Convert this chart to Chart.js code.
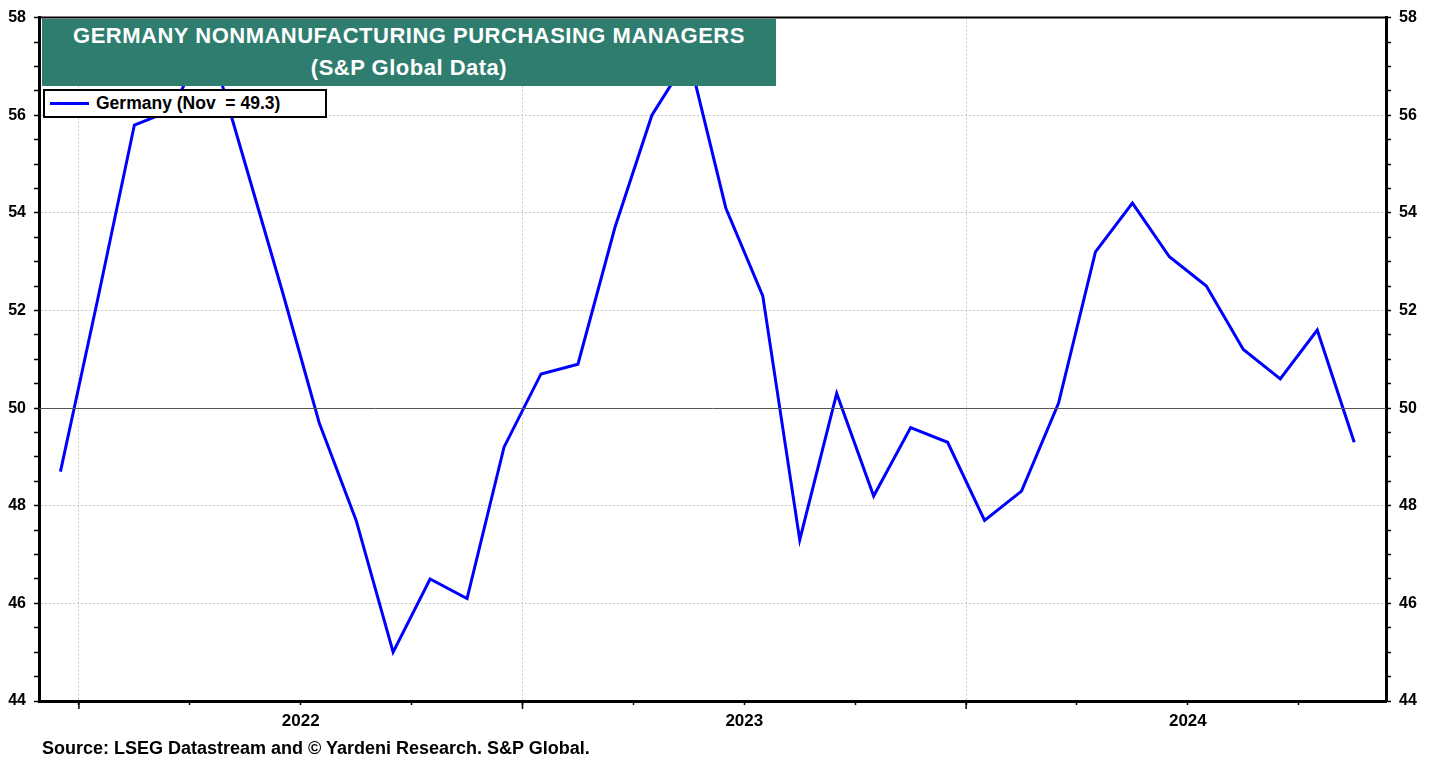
<!DOCTYPE html>
<html>
<head>
<meta charset="utf-8">
<script src="https://cdn.jsdelivr.net/npm/chart.js@4.4.0/dist/chart.umd.min.js"></script>
<style>
  body { margin: 0; background: #fff; }
  #wrap { position: relative; width: 1438px; height: 760px; font-family: "Liberation Sans", Arial, sans-serif; }
  #titleBox {
    position: absolute; left: 42px; top: 19px; width: 734px; height: 67px;
    background: rgb(46, 125, 111); color: #fff; font-weight: bold; font-size: 22px; letter-spacing: 0.5px;
    text-align: center; line-height: 32px; box-sizing: border-box; padding-top: 1px;
  }
  #legendBox {
    position: absolute; left: 43px; top: 89px; width: 284px; height: 29px;
    background: #fff; border: 2px solid #000; box-sizing: border-box;
    font-weight: bold; font-size: 17.5px; white-space: pre;
  }
  #legendBox .swatch { position: absolute; left: 5px; top: 11px; width: 39px; height: 3px; background: #0000ff; }
  #legendBox .lbl { position: absolute; left: 51px; top: 2px; }
  #source { position: absolute; left: 42px; top: 738px; font-weight: bold; font-size: 18px; color: #000; }
</style>
</head>
<body>
<div id="wrap">
  <canvas id="pmiChart" width="1438" height="760"></canvas>
  <div id="titleBox">GERMANY NONMANUFACTURING PURCHASING MANAGERS<br>(S&amp;P Global Data)</div>
  <div id="legendBox"><div class="swatch"></div><div class="lbl">Germany (Nov  = 49.3)</div></div>
  <div id="source">Source: LSEG Datastream and © Yardeni Research. S&amp;P Global.</div>
</div>
<script>
// meses (Dez 2021 a Nov 2024)
const months = [
  'Dec 2021',
  'Jan 2022', 'Feb 2022', 'Mar 2022', 'Apr 2022', 'May 2022', 'Jun 2022',
  'Jul 2022', 'Aug 2022', 'Sep 2022', 'Oct 2022', 'Nov 2022', 'Dec 2022',
  'Jan 2023', 'Feb 2023', 'Mar 2023', 'Apr 2023', 'May 2023', 'Jun 2023',
  'Jul 2023', 'Aug 2023', 'Sep 2023', 'Oct 2023', 'Nov 2023', 'Dec 2023',
  'Jan 2024', 'Feb 2024', 'Mar 2024', 'Apr 2024', 'May 2024', 'Jun 2024',
  'Jul 2024', 'Aug 2024', 'Sep 2024', 'Oct 2024', 'Nov 2024'
];
const germanyPmi = [
  48.7,
  52.2, 55.8, 56.1, 57.6, 55.0, 52.4,
  49.7, 47.7, 45.0, 46.5, 46.1, 49.2,
  50.7, 50.9, 53.7, 56.0, 57.2, 54.1,
  52.3, 47.3, 50.3, 48.2, 49.6, 49.3,
  47.7, 48.3, 50.1, 53.2, 54.2, 53.1,
  52.5, 51.2, 50.6, 51.6, 49.3
];
const yearLabels = ['2022', '2023', '2024'];
const yTickLabels = [44, 46, 48, 50, 52, 54, 56, 58];

// mes em indice a partir de jan/2022, ponto no meio do mes
function monthPos(label) {
  const [m, y] = label.split(' ');
  const mi = ['Jan','Feb','Mar','Apr','May','Jun','Jul','Aug','Sep','Oct','Nov','Dec'].indexOf(m);
  return (Number(y) - 2022) * 12 + mi + 0.5;
}
const points = months.map((m, i) => ({ x: monthPos(m), y: germanyPmi[i] }));

const yearStarts = yearLabels.map((y, i) => i * 12);
const yearMids = yearLabels.map((y, i) => i * 12 + 6);

const extras = {
  id: 'extras',
  afterDraw(chart) {
    const { ctx, chartArea: a, scales } = chart;
    ctx.save();
    // linha de 50
    const y50 = Math.round(scales.y.getPixelForValue(50)) + 0.5;
    ctx.strokeStyle = '#555';
    ctx.lineWidth = 1;
    ctx.beginPath(); ctx.moveTo(a.left, y50); ctx.lineTo(a.right, y50); ctx.stroke();
    // borda de cima
    ctx.strokeStyle = '#000';
    ctx.lineWidth = 2;
    ctx.beginPath(); ctx.moveTo(a.left - 1, a.top); ctx.lineTo(a.right + 1, a.top); ctx.stroke();
    // ticks maiores no inicio de cada ano
    ctx.lineWidth = 1.5;
    yearStarts.forEach(v => {
      const x = scales.x.getPixelForValue(v);
      ctx.beginPath(); ctx.moveTo(x, a.bottom); ctx.lineTo(x, a.bottom + 8); ctx.stroke();
    });
    ctx.restore();
  }
};

const dotted = '#c8c8c8';
const yFont = { family: 'Liberation Sans, Arial, sans-serif', size: 16, weight: 'bold' };
const xFont = { family: 'Liberation Sans, Arial, sans-serif', size: 17, weight: 'bold' };

new Chart(document.getElementById('pmiChart').getContext('2d'), {
  type: 'line',
  data: {
    datasets: [{
      label: 'Germany',
      data: points,
      borderColor: '#0000ff',
      borderWidth: 3,
      pointRadius: 0,
      tension: 0
    }]
  },
  options: {
    responsive: false,
    animation: false,
    layout: { padding: { top: 16, left: 0, right: 0, bottom: 0 } },
    plugins: { legend: { display: false }, title: { display: false }, tooltip: { enabled: false } },
    scales: {
      x: {
        type: 'linear',
        min: -1.08,
        max: 35.36,
        afterBuildTicks: s => { s.ticks = []; for (let v = 0; v <= 33; v += 3) s.ticks.push({ value: v }); },
        afterFit: s => { s.height = 59; },
        ticks: {
          autoSkip: false, maxRotation: 0, padding: 6, color: '#000', font: xFont,
          callback: v => { const k = yearMids.indexOf(v); return k >= 0 ? yearLabels[k] : ''; }
        },
        grid: {
          color: c => yearStarts.includes(c.tick && c.tick.value) ? dotted : 'transparent',
          lineWidth: 1, tickLength: 4, tickColor: '#000', tickWidth: 1.5
        },
        border: { display: true, color: '#000', width: 3, dash: [2, 2] }
      },
      y: {
        position: 'left',
        min: 44, max: 58,
        afterBuildTicks: s => { s.ticks = []; for (let v = 44; v <= 58; v += 0.5) s.ticks.push({ value: v }); },
        afterFit: s => { s.width = 39; },
        ticks: {
          padding: 8, color: '#000', font: yFont,
          callback: v => yTickLabels.includes(v) ? String(v) : ''
        },
        grid: {
          color: c => {
            const v = c.tick && c.tick.value;
            return (yTickLabels.includes(v) && v !== 44 && v !== 58 && v !== 50) ? dotted : 'transparent';
          },
          lineWidth: 1, tickLength: 5, tickColor: '#000', tickWidth: 1.5
        },
        border: { display: true, color: '#000', width: 3, dash: [2, 2] }
      },
      y2: {
        position: 'right',
        min: 44, max: 58,
        afterBuildTicks: s => { s.ticks = []; for (let v = 44; v <= 58; v += 0.5) s.ticks.push({ value: v }); },
        afterFit: s => { s.width = 52; },
        ticks: {
          padding: 8, color: '#000', font: yFont,
          callback: v => yTickLabels.includes(v) ? String(v) : ''
        },
        grid: { drawOnChartArea: false, tickLength: 5, tickColor: '#000', tickWidth: 1.5 },
        border: { display: true, color: '#000', width: 3 }
      }
    }
  },
  plugins: [extras]
});
</script>
</body>
</html>
